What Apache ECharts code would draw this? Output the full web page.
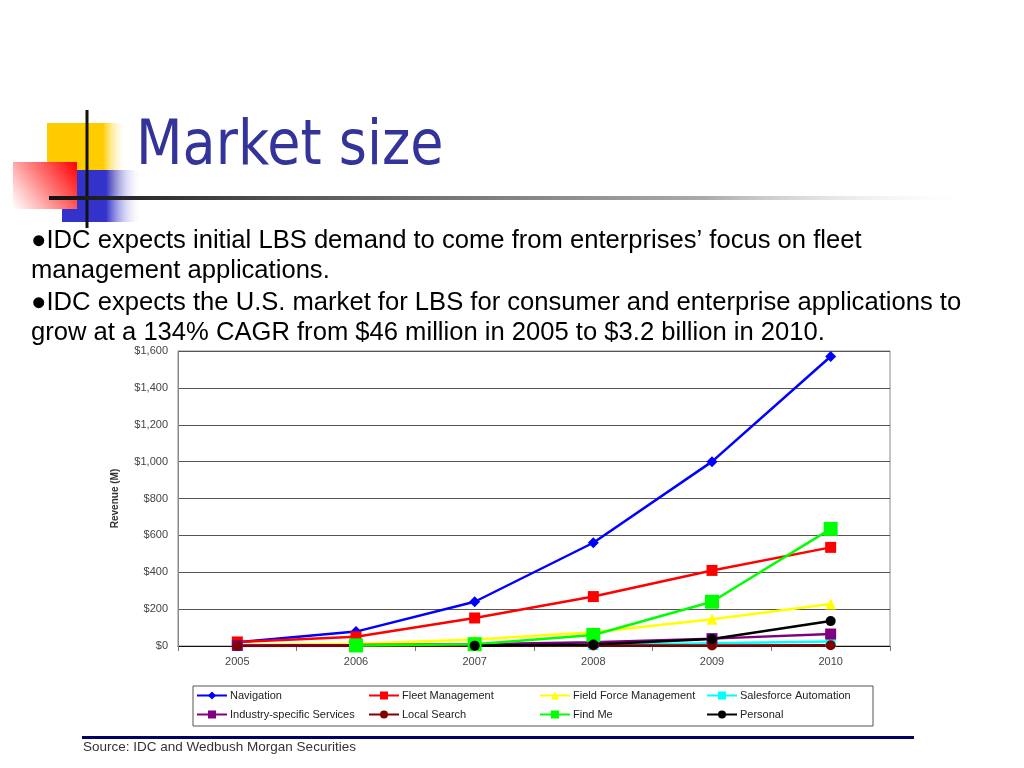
<!DOCTYPE html>
<html>
<head>
<meta charset="utf-8">
<title>Market size</title>
<script src="https://cdn.jsdelivr.net/npm/echarts@6/dist/echarts.min.js"></script>
<style>
  html, body { margin: 0; padding: 0; background: #fff; }
  #chart { width: 1024px; height: 768px; }
</style>
</head>
<body>
<div id="chart"></div>
<script>
// data (revenue, $M)
var years = ['2005', '2006', '2007', '2008', '2009', '2010'];
var navigation = [20, 78, 240, 560, 1000, 1570];
var fleetManagement = [22, 50, 152, 268, 410, 535];
var fieldForce = [5, 12, 35, 75, 145, 228];
var salesforce = [1, 2, 3, 5, 15, 25];
var industrySpecific = [3, 5, 10, 20, 40, 65];
var localSearch = [0, 1, 2, 3, 3, 4];
var findMe = [null, 3, 10, 60, 240, 635];
var personal = [null, null, 2, 8, 38, 135];

var bullets = [
    '\u25CFIDC expects initial LBS demand to come from enterprises\u2019 focus on fleet',
    'management applications.',
    '\u25CFIDC expects the U.S. market for LBS for consumer and enterprise applications to',
    'grow at a 134% CAGR from $46 million in 2005 to $3.2 billion in 2010.'
];

var myChart = echarts.init(document.getElementById('chart'));

function lineSeries(name, data, color, symbol, size) {
    return {
        name: name,
        type: 'line',
        data: data,
        symbol: symbol,
        symbolSize: size,
        showSymbol: true,
        connectNulls: false,
        lineStyle: { color: color, width: 2.5 },
        itemStyle: { color: color },
        animation: false
    };
}

function legendCol(left, names) {
    return {
        orient: 'vertical',
        left: left,
        top: 690,
        itemGap: 8,
        itemWidth: 30,
        itemHeight: 10,
        padding: 0,
        textStyle: { fontFamily: 'Liberation Sans, Arial', fontSize: 11, color: '#222', padding: [0, 0, 0, -2] },
        data: names
    };
}

var bulletTexts = bullets.map(function (t, i) {
    return {
        type: 'text',
        x: 31,
        y: [241, 271, 303, 333][i],
        style: {
            text: t,
            fontFamily: 'Liberation Sans, Arial',
            fontSize: 25.6,
            fill: '#000',
            verticalAlign: 'middle'
        }
    };
});

var option = {
    backgroundColor: '#fff',
    animation: false,
    grid: {
        left: 178,
        right: 134,
        top: 351,
        bottom: 122,
        show: true,
        borderColor: '#8a8a8a',
        borderWidth: 1
    },
    legend: [
        legendCol(196, ['Navigation', 'Industry-specific Services']),
        legendCol(368, ['Fleet Management', 'Local Search']),
        legendCol(539, ['Field Force Management', 'Find Me']),
        legendCol(706, ['Salesforce Automation', 'Personal'])
    ],
    xAxis: {
        type: 'category',
        data: years,
        axisLine: { lineStyle: { color: '#111', width: 1 } },
        axisTick: { show: true, length: 5, lineStyle: { color: '#777' } },
        axisLabel: { fontFamily: 'Liberation Sans, Arial', fontSize: 11, color: '#444', margin: 10 }
    },
    yAxis: {
        type: 'value',
        min: 0,
        max: 1600,
        interval: 200,
        name: 'Revenue (M)',
        nameLocation: 'middle',
        nameGap: 58,
        nameTextStyle: { fontFamily: 'Liberation Sans, Arial', fontSize: 10, fontWeight: 'bold', color: '#333' },
        axisLine: { show: true, lineStyle: { color: '#8a8a8a' } },
        axisTick: { show: false },
        axisLabel: {
            fontFamily: 'Liberation Sans, Arial',
            fontSize: 11,
            color: '#444',
            margin: 10,
            formatter: function (v) { return '$' + v.toLocaleString('en-US'); }
        },
        splitLine: { lineStyle: { color: '#555', width: 1 } }
    },
    series: [
        lineSeries('Navigation', navigation, '#0000ff', 'diamond', 11),
        lineSeries('Fleet Management', fleetManagement, '#ff0000', 'rect', 11),
        lineSeries('Field Force Management', fieldForce, '#ffff00', 'triangle', 11),
        lineSeries('Salesforce Automation', salesforce, '#00ffff', 'rect', 10),
        lineSeries('Industry-specific Services', industrySpecific, '#800080', 'rect', 11),
        lineSeries('Local Search', localSearch, '#800000', 'circle', 10),
        lineSeries('Find Me', findMe, '#00ff00', 'rect', 14),
        lineSeries('Personal', personal, '#000000', 'circle', 10)
    ],
    graphic: [
        // slide decoration, top left
        {
            type: 'rect', shape: { x: 47, y: 123, width: 80, height: 70 },
            style: { fill: new echarts.graphic.LinearGradient(0, 0, 1, 0, [
                { offset: 0, color: '#ffcc00' }, { offset: 0.7, color: '#ffcc00' }, { offset: 1, color: 'rgba(255,255,255,0)' }
            ]) }
        },
        {
            type: 'rect', shape: { x: 62, y: 170, width: 80, height: 52 },
            style: { fill: new echarts.graphic.LinearGradient(0, 0, 1, 0, [
                { offset: 0, color: '#3333cc' }, { offset: 0.55, color: '#3333cc' }, { offset: 1, color: 'rgba(255,255,255,0)' }
            ]) }
        },
        {
            type: 'rect', shape: { x: 13, y: 162, width: 64, height: 47 },
            style: { fill: new echarts.graphic.LinearGradient(1, 0, 0, 1, [
                { offset: 0, color: '#ff0000' }, { offset: 0.5, color: '#ff8080' }, { offset: 1, color: 'rgba(255,255,255,0.9)' }
            ]) }
        },
        {
            type: 'line', shape: { x1: 87, y1: 110, x2: 87, y2: 228 },
            style: { stroke: '#111', lineWidth: 3 }
        },
        {
            type: 'rect', shape: { x: 49, y: 196, width: 935, height: 4 },
            style: { fill: new echarts.graphic.LinearGradient(0, 0, 1, 0, [
                { offset: 0, color: '#111' }, { offset: 0.25, color: '#555' }, { offset: 0.7, color: '#aaa' }, { offset: 1, color: 'rgba(255,255,255,0)' }
            ]) }
        },
        {
            type: 'text', x: 136, y: 148, scaleY: 1.15,
            style: {
                text: 'Market size',
                fontFamily: 'DejaVu Sans',
                fontSize: 54,
                fill: '#333399',
                verticalAlign: 'middle'
            }
        },
        // legend frame
        {
            type: 'rect', shape: { x: 193, y: 686, width: 680, height: 40 },
            style: { fill: 'none', stroke: '#555', lineWidth: 1 }
        },
        // source rule and note
        {
            type: 'rect', shape: { x: 82, y: 736, width: 832, height: 3 },
            style: { fill: '#000066' }
        },
        {
            type: 'text', x: 83, y: 747,
            style: {
                text: 'Source: IDC and Wedbush Morgan Securities',
                fontFamily: 'Liberation Sans, Arial',
                fontSize: 13.5,
                fill: '#333',
                verticalAlign: 'middle'
            }
        }
    ].concat(bulletTexts)
};
myChart.setOption(option);
</script>
</body>
</html>
